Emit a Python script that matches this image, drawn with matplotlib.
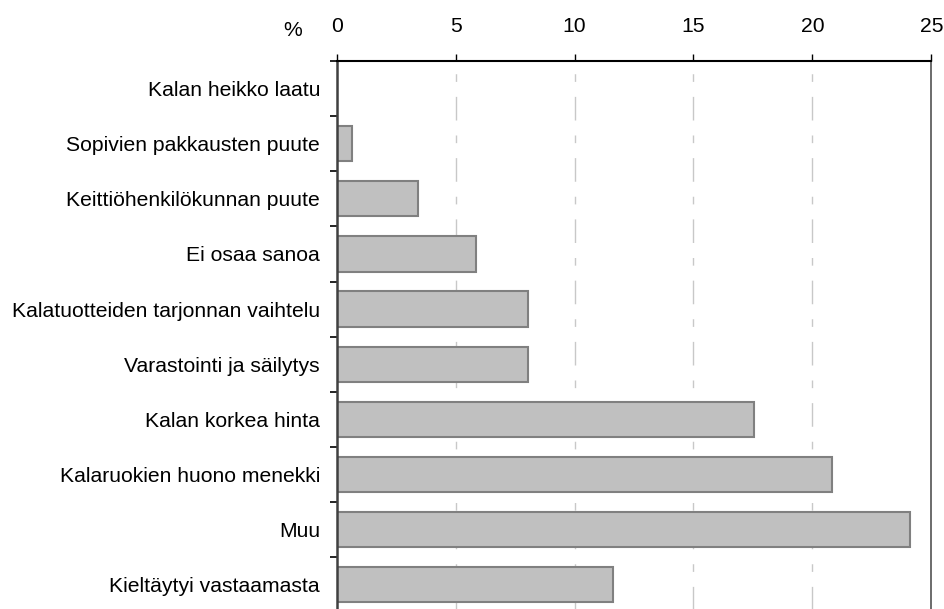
import numpy as np
import matplotlib
matplotlib.use('Agg')
import matplotlib.pyplot as plt
from matplotlib.ticker import FixedLocator


'''
#   data read off the reference chart (percent)
'''
categories = ['Kalan heikko laatu',
              'Sopivien pakkausten puute',
              'Keittiöhenkilökunnan puute',
              'Ei osaa sanoa',
              'Kalatuotteiden tarjonnan vaihtelu',
              'Varastointi ja säilytys',
              'Kalan korkea hinta',
              'Kalaruokien huono menekki',
              'Muu',
              'Kieltäytyi vastaamasta']
values = [0.0, 0.63, 3.43, 5.86, 8.04, 8.04, 17.55, 20.83, 24.1, 11.6]
xticks = [0, 5, 10, 15, 20, 25]


plt.rcParams['font.family'] = ['Liberation Sans', 'DejaVu Sans']
FS = 15.2

fig = plt.figure(figsize=(9.45, 6.09), dpi=100)
ax = fig.add_axes([0.3563, -0.0056, 0.6292, 0.9056])

pos = np.arange(len(categories))
ax.barh(pos, values, height=0.64, color='#c0c0c0', edgecolor='#808080',
        linewidth=1.5, zorder=3)

ax.set_xlim(0, 25)
ax.set_ylim(len(categories) - 0.5, -0.5)

# gridlines (dash - dot)
for x in xticks[1:-1]:
    ax.axvline(x, color='#c8c8c8', linewidth=1.0,
               linestyle=(0, (17, 10.8, 5.5, 10.8)), zorder=1)

ax.xaxis.tick_top()
ax.set_xticks(xticks)
ax.tick_params(axis='x', direction='out', length=5, width=1, pad=13,
               labelsize=FS, colors='black')

ax.set_yticks(pos)
ax.set_yticklabels(categories)
ax.yaxis.set_minor_locator(FixedLocator(np.arange(-0.5, len(categories), 1.0)))
ax.tick_params(axis='y', which='major', length=0, pad=12, labelsize=FS)
ax.tick_params(axis='y', which='minor', length=5, width=1.2, color='black')

for s in ['top', 'left', 'right', 'bottom']:
    ax.spines[s].set_zorder(4)
ax.spines['top'].set_linewidth(1.5)
ax.spines['top'].set_color('black')
ax.spines['left'].set_linewidth(1.8)
ax.spines['left'].set_color('#404040')
ax.spines['right'].set_linewidth(1.3)
ax.spines['right'].set_color('#606060')
ax.spines['bottom'].set_visible(False)

ax.annotate('%', xy=(0, 1), xycoords='axes fraction', xytext=(-31.7, 22),
            textcoords='offset points', ha='center', va='center', fontsize=FS)

plt.savefig('out.png', dpi=100)
